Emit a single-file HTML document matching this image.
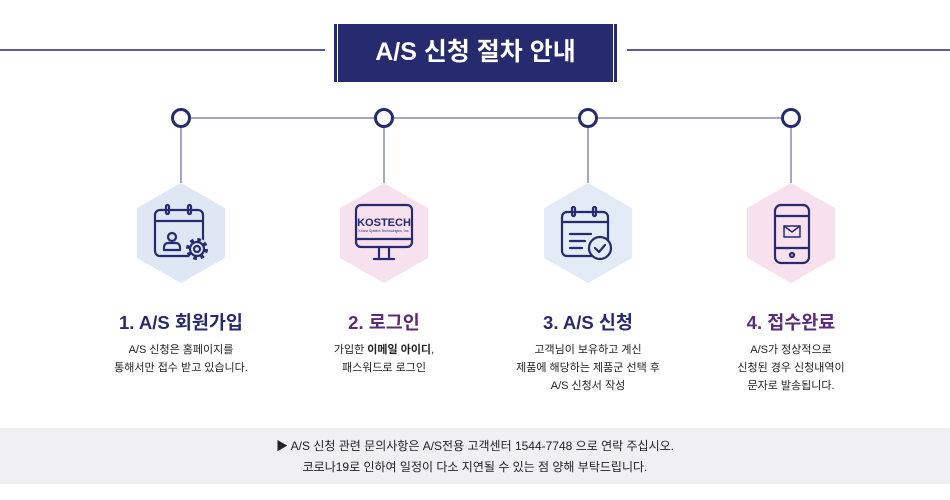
<!DOCTYPE html>
<html><head><meta charset="utf-8"><style>
body{margin:0;width:950px;height:500px;background:#fff;position:relative;overflow:hidden;font-family:"Liberation Sans","Noto Sans CJK KR",sans-serif;}
.t{position:absolute;text-align:center;white-space:nowrap;}
.h{font-size:18.5px;font-weight:bold;top:309px;width:200px;}
.d{font-size:11px;color:#222;line-height:18px;top:341px;width:220px;}
</style></head><body>
<svg width="950" height="500" style="position:absolute;left:0;top:0">
<line x1="0" y1="50" x2="325" y2="50" stroke="#262a6e" stroke-width="1.5"/>
<line x1="627" y1="50" x2="950" y2="50" stroke="#262a6e" stroke-width="1.5"/>
<rect x="334" y="24" width="283" height="58" fill="#262a6e"/>
<line x1="337.5" y1="24" x2="337.5" y2="82" stroke="#fff" stroke-width="1"/>
<line x1="613.5" y1="24" x2="613.5" y2="82" stroke="#fff" stroke-width="1"/>
<line x1="181" y1="118" x2="791" y2="118" stroke="#4a4f88" stroke-width="1"/>
<g stroke="#4a4f88" stroke-width="1">
<line x1="181" y1="118" x2="181" y2="183"/><line x1="384" y1="118" x2="384" y2="183"/>
<line x1="588" y1="118" x2="588" y2="183"/><line x1="791" y1="118" x2="791" y2="183"/></g>
<g fill="#fff" stroke="#262a6e" stroke-width="3">
<circle cx="181" cy="118" r="8.5"/><circle cx="384" cy="118" r="8.5"/><circle cx="588" cy="118" r="8.5"/><circle cx="791" cy="118" r="8.5"/></g>
<polygon points="181,183 225,208 225,258 181,283 137,258 137,208" fill="#dfe7f5"/>
<polygon points="384,183 428,208 428,258 384,283 340,258 340,208" fill="#f8e1ee"/>
<polygon points="588,183 632,208 632,258 588,283 544,258 544,208" fill="#e3ebf6"/>
<polygon points="791,183 835,208 835,258 791,283 747,258 747,208" fill="#f8e1ee"/>
<g fill="none" stroke="#262a6e" stroke-width="2.2" stroke-linecap="round" stroke-linejoin="round">
<rect x="155" y="210" width="48" height="46" rx="5"/>
<line x1="155" y1="221" x2="203" y2="221"/>
<rect x="166" y="205" width="3" height="9" rx="1.5"/><rect x="188" y="205" width="3" height="9" rx="1.5"/>
<circle cx="172" cy="237" r="4"/><path d="M164 250v-3a4 4 0 0 1 4-4h8a4 4 0 0 1 4 4v3z"/>
<circle cx="197" cy="249" r="11" fill="#dfe7f5" stroke="none"/>
<circle cx="197" cy="249" r="9" stroke-width="4" stroke-dasharray="3.5 3.57" stroke-linecap="butt"/>
<circle cx="197" cy="249" r="7" fill="#dfe7f5"/><circle cx="197" cy="249" r="3"/>
<rect x="356" y="205" width="56" height="42" rx="5"/>
<line x1="356" y1="239" x2="412" y2="239"/>
<line x1="379" y1="247" x2="379" y2="257"/><line x1="389" y1="247" x2="389" y2="257"/>
<line x1="374" y1="259" x2="394" y2="259"/>
<rect x="562" y="212" width="46" height="44" rx="5"/>
<line x1="562" y1="222" x2="608" y2="222"/>
<rect x="572" y="207" width="3" height="9" rx="1.5"/><rect x="593" y="207" width="3" height="9" rx="1.5"/>
<line x1="570" y1="234" x2="591" y2="234"/><line x1="570" y1="241" x2="585" y2="241"/><line x1="570" y1="248" x2="582" y2="248"/>
<circle cx="600" cy="248" r="11" fill="#e3ebf6"/><path d="M595 248l4 4 6-7"/>
<rect x="775" y="205" width="34" height="58" rx="6"/>
<line x1="775" y1="216" x2="809" y2="216"/><line x1="775" y1="248" x2="809" y2="248"/>
<circle cx="792" cy="255" r="2"/>
<rect x="784" y="226" width="16" height="11" stroke-width="1.5"/><path d="M784 226l8 6 8-6" stroke-width="1.5"/>
</g>
<text x="384" y="226" text-anchor="middle" font-family="Liberation Sans" font-weight="bold" font-size="11" fill="#262a6e">KOSTECH</text>
<text x="384" y="232" text-anchor="middle" font-family="Liberation Sans" font-size="3.5" fill="#262a6e">Korea System Technologies, Inc.</text>
<rect x="0" y="428" width="950" height="56" fill="#f0f0f2"/>
</svg>
<div class="t" style="left:334px;top:32px;width:283px;color:#fff;font-size:25px;font-weight:bold;">A/S 신청 절차 안내</div>
<div class="t h" style="left:81px;color:#262a6e">1. A/S 회원가입</div>
<div class="t h" style="left:284px;color:#5b2b77">2. 로그인</div>
<div class="t h" style="left:488px;color:#262a6e">3. A/S 신청</div>
<div class="t h" style="left:691px;color:#5b2b77">4. 접수완료</div>
<div class="t d" style="left:71px">A/S 신청은 홈페이지를<br>통해서만 접수 받고 있습니다.</div>
<div class="t d" style="left:274px">가입한 <b>이메일 아이디</b>,<br>패스워드로 로그인</div>
<div class="t d" style="left:478px">고객님이 보유하고 계신<br>제품에 해당하는 제품군 선택 후<br>A/S 신청서 작성</div>
<div class="t d" style="left:681px">A/S가 정상적으로<br>신청된 경우 신청내역이<br>문자로 발송됩니다.</div>
<div class="t" style="left:0;width:950px;top:436px;font-size:12px;line-height:21px;color:#222">▶ A/S 신청 관련 문의사항은 A/S전용 고객센터 1544-7748 으로 연락 주십시오.<br>코로나19로 인하여 일정이 다소 지연될 수 있는 점 양해 부탁드립니다.</div>
</body></html>
